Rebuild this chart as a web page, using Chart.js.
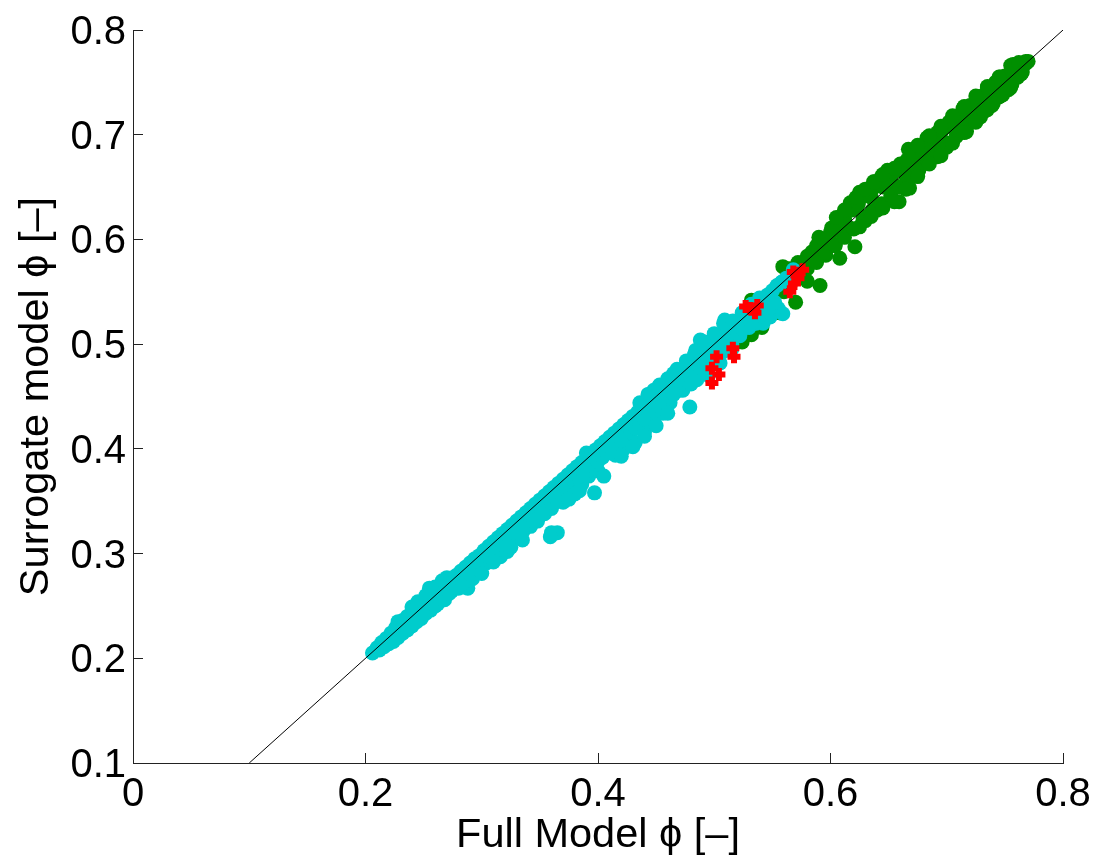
<!DOCTYPE html>
<html>
<head>
<meta charset="utf-8">
<script src="https://cdn.jsdelivr.net/npm/chart.js@4/dist/chart.umd.min.js"></script>
<style>
html, body { margin: 0; padding: 0; background: #fff; }
canvas { display: block; }
</style>
</head>
<body>
<canvas id="phiChart" width="1100" height="865"></canvas>
<script>
const xTicks = [0, 0.2, 0.4, 0.6, 0.8];
const yTicks = [0.1, 0.2, 0.3, 0.4, 0.5, 0.6, 0.7, 0.8];
const xTitle = 'Full Model \u03d5 [\u2013]';
const yTitle = 'Surrogate model \u03d5 [\u2013]';

const parityX = [0.1, 0.8];
const parityY = [0.1, 0.8];

// points close to the parity line, then the scatter below and above it
const cyanX = [.206,.210,.214,.218,.222,.226,.228,.232,.236,.240,.244,.248,.252,.255,.258,.262,.266,.270,.274,.278,.282,.286,.290,.294,.298,.302,.306,.310,.314,.318,.322,.326,.330,.334,.338,.342,.346,.350,.354,.358,.362,.366,.370,.374,.378,.382,.386,.390,.394,.398,.402,.406,.410,.414,.418,.422,.426,.430,.434,.438,.442,.446,.450,.453,.458,.462,.466,.470,.474,.478,.482,.486,.490,.494,.498,.502,.506,.510,.514,.518,.522,.526,.530,.534,.538,.542,.546,.550,.554,.558,.562,.568,
  .224,.232,.240,.248,.256,.262,.268,.274,.280,.284,.288,.292,.297,.304,.310,.316,.322,.329,.336,.342,.348,.354,.360,.366,.372,.380,.386,.392,.400,.405,.415,.422,.432,.440,.448,.456,.462,.470,.473,.485,.492,.500,.508,.515,.522,.530,.536,.542,.548,.555,
  .360,.365,.359,.397,.479,.559,.488,.509,.483,.465,.539,.558,.443,.448,
  .212,.216,.220,.228,.236,.244,.252,.260,.266,.272,.278,.284,.290,.296,.300,.306,.312,.318,.324,.330,.336,.342,.348,.352,.356,.360,.364,.368,.372,.376,.380,.384,.388,.392,.396,.400,.404,.408,.412,.416,.420,.424,.428,.432,.436,.440,.444,.448,.452,.456,.460,.464,.468,.472,.476,.480,.484,.488,.492,.496,.500,.504,.508,.512,.516,.520,.524,.528,.532,.536,.540,.544,.548,.552,
  .436,.444,.452,.460,.468,.476,.484,.492,.500,.508,.516,.524,.532,.245,.252,.260,.266,
  .370,.375,.380,.384,.300,.310,.325,.335,.345,.352,.420,.430,.440,.450,.460,.465,.480,.495,.505,.515];
const cyanY = [.205,.210,.215,.219,.224,.229,.235,.236,.240,.249,.248,.253,.256,.267,.260,.264,.268,.277,.276,.279,.283,.287,.291,.295,.298,.303,.307,.311,.315,.319,.323,.327,.331,.335,.339,.343,.347,.351,.355,.359,.363,.367,.371,.375,.379,.383,.387,.396,.395,.399,.403,.407,.411,.415,.419,.423,.427,.431,.435,.439,.443,.447,.451,.461,.459,.463,.467,.471,.475,.479,.483,.487,.491,.495,.499,.503,.507,.511,.515,.519,.523,.527,.531,.535,.539,.544,.547,.551,.556,.559,.563,.571,
  .216,.224,.231,.238,.246,.252,.256,.264,.267,.268,.267,.276,.284,.291,.294,.297,.302,.316,.322,.326,.331,.338,.343,.350,.351,.359,.366,.374,.379,.374,.394,.400,.406,.416,.426,.434,.444,.456,.456,.466,.476,.486,.493,.500,.508,.516,.520,.520,.526,.534,
  .320,.320,.316,.358,.440,.529,.504,.523,.490,.472,.544,.559,.452,.456,
  .208,.211,.214,.220,.227,.235,.243,.250,.256,.262,.268,.272,.280,.285,.289,.297,.303,.309,.315,.320,.326,.332,.338,.342,.346,.349,.353,.358,.360,.364,.368,.371,.375,.380,.384,.388,.392,.396,.400,.404,.408,.412,.416,.420,.424,.428,.434,.436,.441,.445,.450,.454,.458,.462,.466,.470,.472,.478,.482,.486,.490,.494,.498,.502,.506,.510,.514,.518,.520,.525,.528,.532,.535,.540,
  .444,.452,.459,.467,.476,.484,.494,.502,.510,.520,.522,.530,.538,.254,.260,.268,.274,
  .349,.352,.357,.360,.281,.292,.306,.313,.331,.338,.393,.402,.412,.422,.434,.452,.462,.470,.482,.495];

const greenX = [.524,.532,.541,.532,.548,.556,.570,.559,.576,.565,.580,.586,.591,.590,.596,.601,.604,.608,.612,.618,.621,.617,.625,.628,.632,.637,.640,.644,.649,.652,.656,.659,.660,.664,.668,.667,.672,.676,.680,.683,.686,.692,.692,.696,.700,.702,.707,.710,.714,.717,.720,.724,.729,.727,.732,.735,.739,.742,.746,.750,.753,.757,.761,.765,.770,.768,
  .560,.572,.584,.600,.610,.625,.635,.645,.655,.670,.680,.690,.705,.715,.725,.735,.745,.755,.615,.630,.650,.665,
  .565,.572,.580,.588,.594,.600,.606,.612,.618,.624,.630,.636,.642,.648,.654,.660,.666,.672,.678,.684,.690,.696,.702,.708,.714,.720,.726,.732,.738,.744,.750,.756,.762,.768,
  .580,.588,.596,.604,.612,.620,.628,.636,.644,.652,.660,.668,.676,.684,.692,.700,.708,.716,.724,.732,.740,.748,.756,.764,
  .605,.612,.622,.630,.638,.645,.655,.625,.635,.645,.655,.665,.675,.685,.695,.705,.715,.725,.735,.745,.755,.675,.685,.695,.705,.715,.725,.735,.745,.755,.762];
const greenY = [.502,.509,.516,.542,.547,.530,.540,.574,.578,.555,.560,.582,.556,.602,.585,.611,.595,.582,.618,.633,.593,.635,.645,.622,.648,.655,.628,.660,.666,.640,.650,.636,.672,.664,.649,.686,.675,.670,.690,.697,.680,.702,.679,.706,.688,.712,.716,.702,.725,.703,.728,.713,.717,.735,.726,.745,.728,.750,.755,.744,.743,.767,.755,.760,.770,.768,
  .550,.575,.588,.598,.606,.640,.640,.650,.652,.668,.682,.690,.708,.714,.726,.738,.746,.756,.612,.618,.652,.660,
  .572,.578,.584,.594,.600,.607,.612,.620,.628,.634,.642,.648,.656,.658,.664,.668,.676,.680,.686,.692,.698,.704,.708,.716,.721,.726,.732,.738,.745,.750,.756,.762,.766,.770,
  .572,.578,.588,.594,.602,.610,.618,.628,.634,.642,.650,.658,.666,.674,.682,.692,.698,.706,.714,.722,.730,.738,.748,.758,
  .621,.628,.640,.648,.655,.662,.668,.612,.622,.630,.636,.648,.660,.672,.680,.692,.702,.712,.724,.736,.745,.690,.699,.708,.718,.727,.737,.746,.755,.766,.769];

const redX = [.498,.504,.498,.502,.517,.516,.527,.535,.537,.531,.565,.569,.568,.576,.572];
const redY = [.463,.471,.477,.488,.488,.496,.536,.530,.537,.534,.550,.558,.569,.571,.563];

function toPoints(xs, ys) {
    return xs.map(function (x, i) { return {x: x, y: ys[i]}; });
}

function setTicks(values) {
    return function (scale) {
        scale.ticks = values.map(function (v) { return {value: v, label: String(v)}; });
    };
}

const labelFont = {family: '"Liberation Sans", Arial, sans-serif', size: 40};
const titleFont = {family: '"Liberation Sans", Arial, sans-serif', size: 41.5};

new Chart(document.getElementById('phiChart').getContext('2d'), {
    type: 'scatter',
    data: {
        datasets: [
            {
                label: 'parity',
                type: 'line',
                data: toPoints(parityX, parityY),
                borderColor: '#000',
                borderWidth: 1,
                pointRadius: 0,
                order: 0
            },
            {
                label: 'red',
                data: toPoints(redX, redY),
                pointStyle: 'cross',
                pointRadius: 6.5,
                borderColor: '#ff0000',
                borderWidth: 6,
                order: 1
            },
            {
                label: 'cyan',
                data: toPoints(cyanX, cyanY),
                pointRadius: 7.5,
                backgroundColor: '#00cccc',
                borderWidth: 0,
                order: 2
            },
            {
                label: 'green',
                data: toPoints(greenX, greenY),
                pointRadius: 7.5,
                backgroundColor: '#008f00',
                borderWidth: 0,
                order: 3
            }
        ]
    },
    options: {
        responsive: false,
        animation: false,
        layout: {padding: {top: 30, right: 37, left: 0, bottom: 0}},
        plugins: {legend: {display: false}, tooltip: {enabled: false}},
        scales: {
            x: {
                type: 'linear',
                min: 0,
                max: 0.8,
                afterBuildTicks: setTicks(xTicks),
                afterFit: function (scale) {
                    scale.height = 102;
                    scale.paddingLeft = 0;
                    scale.paddingRight = 0;
                },
                grid: {drawOnChartArea: false, tickLength: -10, color: '#222', tickColor: '#222'},
                border: {color: '#222', width: 1},
                ticks: {color: '#000', font: labelFont, padding: 18, maxRotation: 0, autoSkip: false},
                title: {display: true, text: xTitle, color: '#000', font: titleFont, padding: {top: 0, bottom: 5}}
            },
            y: {
                type: 'linear',
                min: 0.1,
                max: 0.8,
                afterBuildTicks: setTicks(yTicks),
                afterFit: function (scale) {
                    scale.width = 133;
                    scale.paddingTop = 0;
                    scale.paddingBottom = 0;
                },
                grid: {drawOnChartArea: false, tickLength: -10, color: '#222', tickColor: '#222'},
                border: {color: '#222', width: 1},
                ticks: {color: '#000', font: labelFont, padding: 17, labelOffset: 3, autoSkip: false},
                title: {display: true, text: yTitle, color: '#000', font: titleFont, padding: {top: 12, bottom: 0}}
            }
        }
    }
});
</script>
</body>
</html>
